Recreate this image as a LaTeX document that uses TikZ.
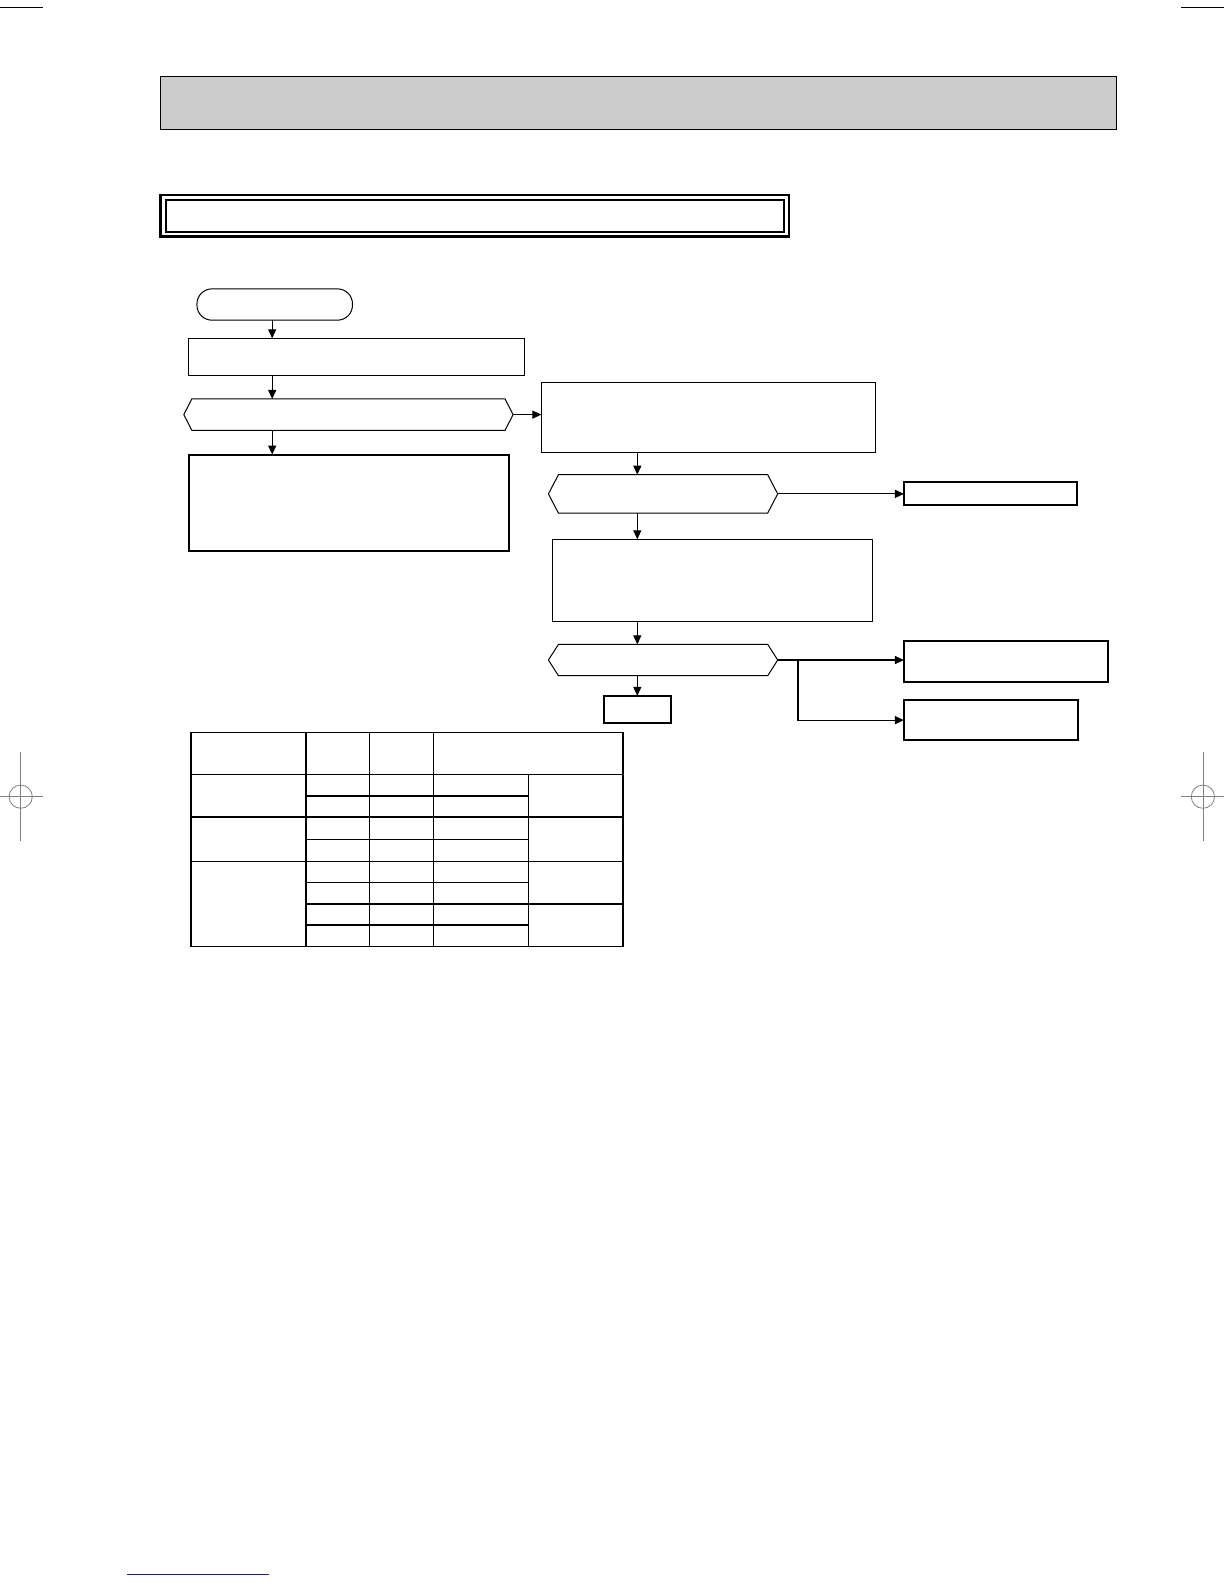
\documentclass[tikz,border=0pt]{standalone}
\usepackage{tikz}
\usetikzlibrary{arrows.meta,calc}

\definecolor{headgray}{HTML}{CCCCCC}
\definecolor{markgray}{HTML}{808080}
\definecolor{linkblue}{HTML}{1A1A8C}

\tikzset{
  thinbox/.style={draw, line width=1pt},
  thickbox/.style={draw, line width=2pt},
  flowarrow/.style={line width=1.2pt, -{Triangle[length=9pt,width=8pt]}},
  tabline/.style={line width=1.4pt},
}

% box by its corners: [style]{name}{x1}{y1}{x2}{y2}
\newcommand{\flowbox}[6][thinbox]{%
  \pgfmathsetmacro\bw{1.01*(#5-#3)}%
  \pgfmathsetmacro\bh{1.01*(#6-#4)}%
  \node[#1, rectangle, inner sep=0pt, outer sep=0pt,
        minimum width=\bw pt, minimum height=\bh pt]
        (#2) at ({(#3+#5)/2},{(#4+#6)/2}) {};}

% hexagon outline drawn on an empty box
\newcommand{\hexout}[2]{%
  \draw[line width=1pt] (#1.west) -- ([xshift=#2pt]#1.north west)
    -- ([xshift=-#2pt]#1.north east) -- (#1.east)
    -- ([xshift=-#2pt]#1.south east) -- ([xshift=#2pt]#1.south west) -- cycle;}

\begin{document}
\begin{tikzpicture}[x=1.01pt, y=-1.01pt]
  \useasboundingbox (0,0) rectangle (1211.88,1568.32);

  % crop and register marks
  \draw[line width=1pt] (0,7.9) -- (42.3,7.9) (1169.3,7.9) -- (1212,7.9);
  \draw[markgray, line width=0.8pt] (20.5,744.6) -- (20.5,832.7) (0,788.8) -- (42.6,788.8);
  \draw[markgray, line width=0.8pt] (20.5,788.8) circle (11.6pt);
  \draw[markgray, line width=0.8pt] (1191,744.6) -- (1191,832.7) (1169,788.8) -- (1212,788.8);
  \draw[markgray, line width=0.8pt] (1191,788.8) circle (11.6pt);
  \draw[linkblue, line width=1.4pt] (125.7,1559) -- (266.3,1559);

  % heading bars
  \flowbox[draw, line width=1pt, fill=headgray]{head}{159}{76}{1105}{128}
  \flowbox[draw, line width=2.6pt]{title}{159}{193}{781}{234}
  \draw[line width=1.8pt] ($(title.north west)+(5,5)$) rectangle ($(title.south east)+(-5,-4)$);

  % flow chart
  \flowbox[thinbox, rounded corners=15pt]{start}{195}{286}{349}{317}
  \flowbox{step1}{187}{335}{519}{372}
  \flowbox[draw=none]{ask1}{182}{395}{508}{426}
  \hexout{ask1}{8}
  \flowbox{step2}{536}{379}{867}{448}
  \flowbox[thickbox]{note1}{187}{450}{504}{546}
  \flowbox[draw=none]{ask2}{543}{470}{770}{508}
  \hexout{ask2}{10}
  \flowbox[thickbox]{res1}{895}{477}{1066}{500}
  \flowbox{step3}{547}{534}{864}{615}
  \flowbox[draw=none]{ask3}{543}{638}{770}{669}
  \hexout{ask3}{10}
  \flowbox[thickbox]{res2}{895}{635}{1097}{675}
  \flowbox[thickbox]{res3}{895}{693}{1067}{733}
  \flowbox[thickbox]{res4}{598}{689}{664}{716}

  \coordinate (colA) at (269.5,0);
  \coordinate (colB) at (631,0);
  \coordinate (split) at (790,0);

  \draw[flowarrow] (start.south -| colA) -- (step1.north -| colA);
  \draw[flowarrow] (step1.south -| colA) -- (ask1.north -| colA);
  \draw[flowarrow] (ask1.south -| colA) -- (note1.north -| colA);
  \draw[flowarrow] (ask1.east) -- (ask1.east -| step2.west);
  \draw[flowarrow] (step2.south -| colB) -- (ask2.north -| colB);
  \draw[flowarrow] (ask2.east) -- (ask2.east -| res1.west);
  \draw[flowarrow] (ask2.south -| colB) -- (step3.north -| colB);
  \draw[flowarrow] (step3.south -| colB) -- (ask3.north -| colB);
  \draw[flowarrow] (ask3.east) -- (ask3.east -| res2.west);
  \draw[flowarrow] (ask3.east -| split) |- (res3.west);
  \draw[flowarrow] (ask3.south -| colB) -- (res4.north -| colB);

  % table
  \draw[tabline] (189,725) rectangle (617,937);
  \foreach \y in {767,809,853}
    \draw[tabline] (189,\y) -- (617,\y);
  \foreach \y in {788,831,874,916}
    \draw[tabline] (303,\y) -- (523,\y);
  \draw[tabline] (303,895) -- (617,895);
  \foreach \x in {303,366,429}
    \draw[tabline] (\x,725) -- (\x,937);
  \draw[tabline] (523,767) -- (523,937);
\end{tikzpicture}
\end{document}
